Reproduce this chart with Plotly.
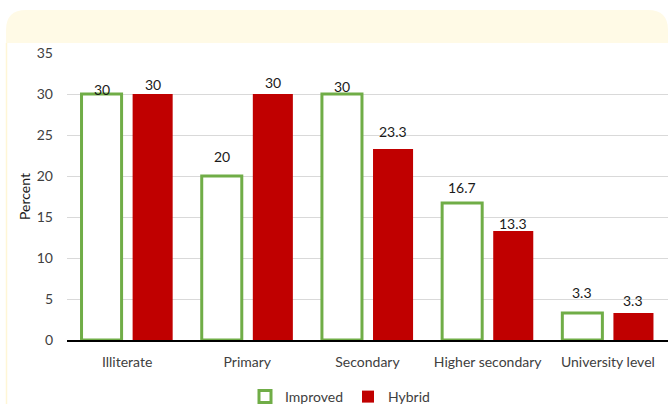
import plotly.graph_objects as go

categories = ["Illiterate", "Primary", "Secondary", "Higher secondary", "University level"]
improved = [30, 20, 30, 16.7, 3.3]
hybrid = [30, 30, 23.3, 13.3, 3.3]
improved_labels = ["30", "20", "30", "16.7", "3.3"]
hybrid_labels = ["30", "30", "23.3", "13.3", "3.3"]
y_ticks = [0, 5, 10, 15, 20, 25, 30, 35]

# label vertical offsets (px above bar top) -- style only
imp_shift = [5, 20, 8, 16, 20]
hyb_shift = [10, 12, 17, 7, 12]

W, H = 668, 404
L, R, T, B = 67, 668, 53, 340

def px(x):
    return (x - L) / (R - L)

def py(y):
    return (B - y) / (B - T)

FONT = "Lato"
FS = 14

fig = go.Figure()
fig.add_trace(go.Bar(
    name="Improved", x=categories, y=improved,
    marker=dict(color="white", line=dict(color="#70AD47", width=3)),
))
fig.add_trace(go.Bar(
    name="Hybrid", x=categories, y=hybrid,
    marker=dict(color="#C00000", line=dict(width=0)),
))

annotations = []
for i, c in enumerate(categories):
    annotations.append(dict(x=c, y=improved[i], text=improved_labels[i], xshift=-25.5,
                            yshift=imp_shift[i], showarrow=False, yanchor="middle",
                            font=dict(family=FONT, size=FS, color="#1a1a1a")))
    annotations.append(dict(x=c, y=hybrid[i], text=hybrid_labels[i], xshift=25.5,
                            yshift=hyb_shift[i], showarrow=False, yanchor="middle",
                            font=dict(family=FONT, size=FS, color="#1a1a1a")))
annotations.append(dict(xref="paper", yref="paper", x=px(24), y=py(197), text="Percent",
                        textangle=-90, showarrow=False, xanchor="center", yanchor="middle",
                        font=dict(family=FONT, size=FS, color="#1a1a1a")))

# header rounded rectangle
x0, x1, y0, y1, r = 6, 668, 10, 43, 20
path = (f"M {px(x0)},{py(y1)} L {px(x0)},{py(y0 + r)} "
        f"Q {px(x0)},{py(y0)} {px(x0 + r)},{py(y0)} "
        f"L {px(x1 - r)},{py(y0)} Q {px(x1)},{py(y0)} {px(x1)},{py(y0 + r)} "
        f"L {px(x1)},{py(y1)} Z")
shapes = [
    dict(type="path", xref="paper", yref="paper", path=path,
         fillcolor="#FFFAE6", line=dict(width=0), layer="below"),
    dict(type="line", xref="paper", yref="paper", x0=px(6.5), x1=px(6.5),
         y0=py(43), y1=py(404), line=dict(color="#FFF6D6", width=1.5), layer="below"),
]

fig.update_layout(
    width=W, height=H,
    margin=dict(l=L, r=W - R, t=T, b=H - B, pad=0, autoexpand=False),
    paper_bgcolor="white", plot_bgcolor="white",
    barmode="group", bargap=0.15, bargroupgap=0.216,
    font=dict(family=FONT, size=FS, color="#404040"),
    showlegend=True,
    legend=dict(orientation="h", x=px(340), y=py(397), xanchor="center", yanchor="middle",
                font=dict(family=FONT, size=FS, color="#404040"), itemwidth=30,
                traceorder="normal"),
    annotations=annotations,
    shapes=shapes,
    xaxis=dict(range=[-0.5, 4.5], showgrid=False, showline=True, linecolor="black",
               linewidth=1.5, ticks="", ticklabelstandoff=8,
               tickfont=dict(family=FONT, size=FS, color="#404040")),
    yaxis=dict(range=[0, 35], tickvals=y_ticks, showgrid=True, gridcolor="#D9D9D9",
               gridwidth=1, zeroline=False, showline=False, ticks="",
               ticklabelstandoff=13,
               tickfont=dict(family=FONT, size=FS, color="#404040")),
)

fig.write_html("out.html")
